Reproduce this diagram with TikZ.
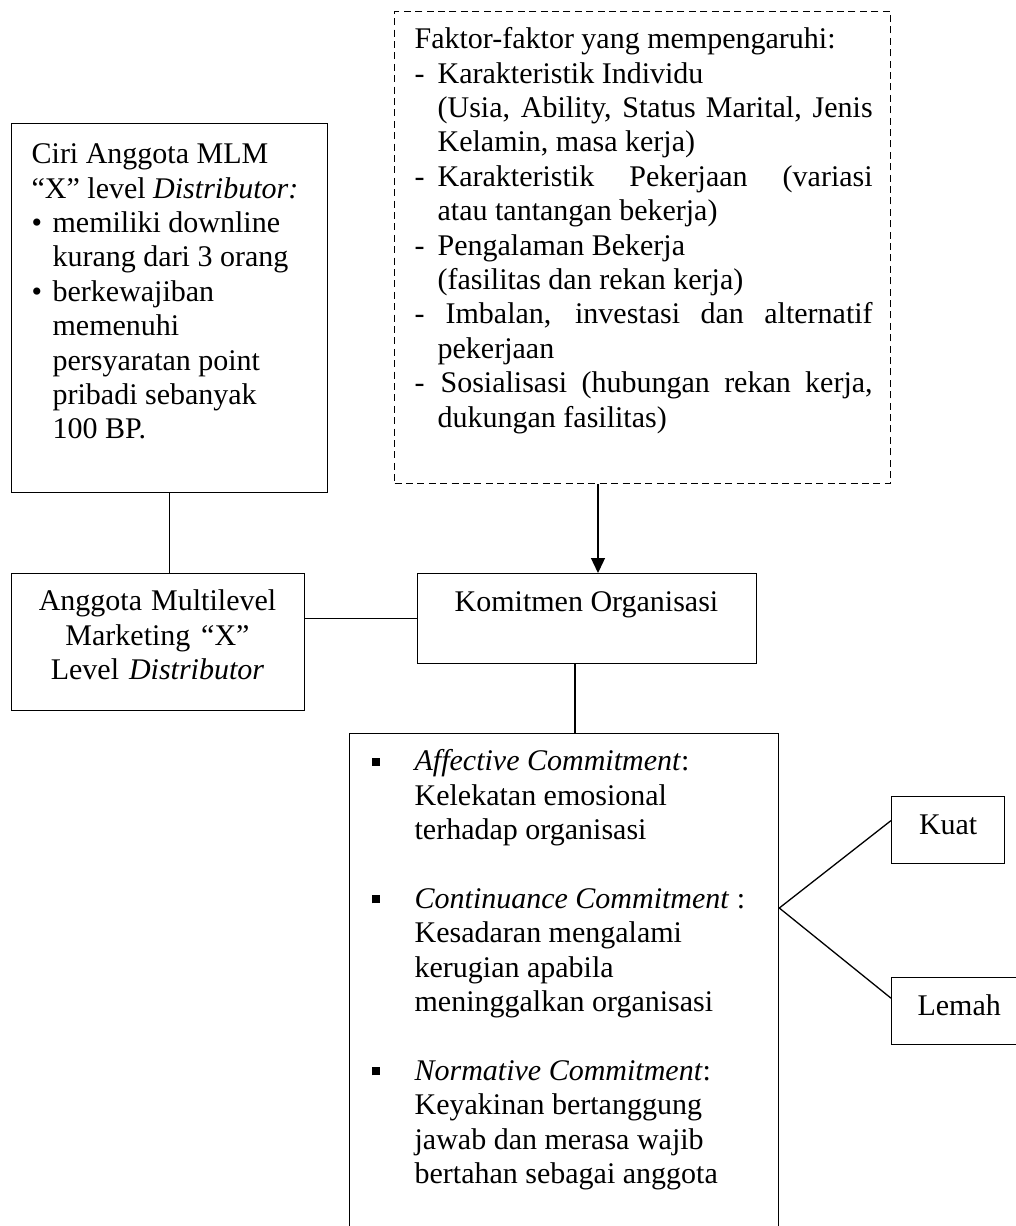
\documentclass[tikz,border=0pt]{standalone}
\usepackage{fontspec}
\setmainfont{Liberation Serif}
\usetikzlibrary{arrows.meta,calc}
\newcommand{\nsp}{\spaceskip=0pt\xspaceskip=0pt\relax}
\newcommand{\dashitem}{\makebox[11.5pt][l]{-}}
\newcommand{\dind}{\hspace*{11.5pt}}
\newcommand{\jline}[1]{\makebox[217.5pt][s]{\nsp #1}}
\newcommand{\bulitem}{\makebox[10.5pt][l]{\textbullet}}
\newcommand{\bind}{\hspace*{10.5pt}}
\newcommand{\sqitem}{\makebox[21.5pt][l]{\hspace*{0pt}\raisebox{2.5pt}{\rule{4pt}{4pt}}}}
\newcommand{\sqind}{\hspace*{21.5pt}}
\tikzset{
  every picture/.style={line width=0.65pt},
  box/.style={draw, inner sep=0pt, anchor=north west},
  dbox/.style={box, dash pattern=on 3.5pt off 2.2pt},
  txt/.style={inner sep=0pt, align=left, font=\fontsize{15}{17.2}\selectfont},
  small/.style={draw, inner sep=0pt, anchor=north west, font=\fontsize{15}{17.2}\selectfont, text height=10pt, text depth=5.3pt},
  arr/.style={-{Triangle[width=7pt,length=7.5pt]}}
}
\begin{document}
\begin{tikzpicture}[x=0.5pt,y=-0.5pt]
\useasboundingbox (0,0) rectangle (1016,1226);

% boxes
\node[dbox, minimum width=248pt, minimum height=236pt] (fak) at (394,11) {};
\node[box, minimum width=158pt, minimum height=184.5pt] (ciri) at (11,123) {};
\node[box, minimum width=146.5pt, minimum height=68.5pt] (ang) at (11,573) {};
\node[box, minimum width=169.5pt, minimum height=45pt] (kom) at (417,573) {};
\node[box, minimum width=214.5pt, minimum height=253.5pt] (dim) at (349,733) {};
\node[small, minimum width=56.5pt, minimum height=33.5pt] (kuat) at (891,796) {Kuat};
\node[small, minimum width=67.5pt, minimum height=33.5pt] (lemah) at (891,977) {Lemah};

% texts
\node[txt, anchor=north west, text width=230pt] (fakt) at (414,23.9) {\nsp\strut Faktor-faktor yang mempengaruhi:\\
\dashitem Karakteristik Individu\\
\dind\jline{(Usia, Ability, Status Marital, Jenis}\\
\dind Kelamin, masa kerja)\\
\dashitem\jline{Karakteristik Pekerjaan (variasi}\\
\dind atau tantangan bekerja)\\
\dashitem Pengalaman Bekerja\\
\dind (fasilitas dan rekan kerja)\\
\dashitem\jline{\hspace*{4pt}Imbalan, investasi dan alternatif}\\
\dind pekerjaan\\
\dashitem\jline{\hspace*{1.5pt}Sosialisasi (hubungan rekan kerja,}\\
\dind dukungan fasilitas)};

\node[txt, anchor=north west, text width=150pt] (cirit) at (31,139) {\nsp\strut Ciri Anggota MLM\\
“X” level \textit{Distributor:}\\
\bulitem memiliki downline\\
\bind kurang dari 3 orang\\
\bulitem berkewajiban\\
\bind memenuhi\\
\bind persyaratan point\\
\bind pribadi sebanyak\\
\bind 100 BP.};

\node[txt, anchor=north, align=center, text width=145pt] (angt) at (157.5,586) {\nsp\strut Anggota Multilevel\\
Marketing “X”\\
Level \textit{Distributor}};

\node[txt, anchor=base] (komt) at (586.5,611) {Komitmen Organisasi};

\node[txt, anchor=north west, text width=205pt] (dimt) at (371,746) {\nsp\strut\sqitem\textit{Affective Commitment}:\\
\sqind Kelekatan emosional\\
\sqind terhadap organisasi\\[17.2pt]
\sqitem\textit{Continuance Commitment} :\\
\sqind Kesadaran mengalami\\
\sqind kerugian apabila\\
\sqind meninggalkan organisasi\\[17.2pt]
\sqitem\textit{Normative Commitment}:\\
\sqind Keyakinan bertanggung\\
\sqind jawab dan merasa wajib\\
\sqind bertahan sebagai anggota};

% connectors
\coordinate (ax) at (598,0);
\coordinate (cx) at (575,0);
\coordinate (bry) at (0,908);
\coordinate (br) at (dim.east |- bry);
\draw[arr] (fak.south -| ax) -- (kom.north -| ax);
\draw (ciri.south) -- (ciri.south |- ang.north);
\draw (ang.east |- kom.west) -- (kom.west);
\draw (kom.south -| cx) -- (dim.north -| cx);
\draw ($(kuat.north west)!0.36!(kuat.south west)$) -- (br) -- ($(lemah.north west)!0.31!(lemah.south west)$);
\end{tikzpicture}
\end{document}
